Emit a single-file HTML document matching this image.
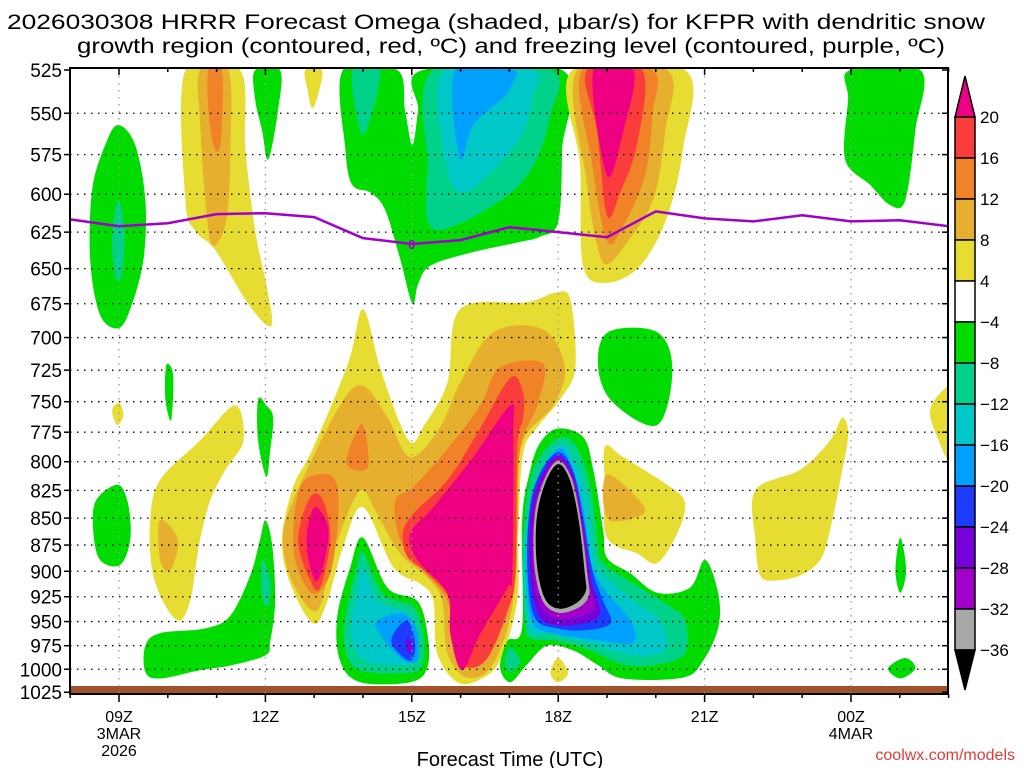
<!DOCTYPE html>
<html><head><meta charset="utf-8"><style>
html,body{margin:0;padding:0;background:#fff;}
svg{display:block;font-family:"Liberation Sans",sans-serif;}
</style></head><body>
<svg id="chart" width="1024" height="768" viewBox="0 0 1024 768" xmlns="http://www.w3.org/2000/svg">
<defs><clipPath id="plotclip"><rect x="70" y="69" width="878" height="625"/></clipPath></defs>
<g id="title">
<text x="496" y="29" font-size="21" text-anchor="middle" textLength="978" lengthAdjust="spacingAndGlyphs">2026030308 HRRR Forecast Omega (shaded, μbar/s) for KFPR with dendritic snow</text>
<text x="511" y="53" font-size="21" text-anchor="middle" textLength="868" lengthAdjust="spacingAndGlyphs">growth region (contoured, red, ºC) and freezing level (contoured, purple, ºC)</text>
</g>
<g id="fills" clip-path="url(#plotclip)"></g>
<g id="grid"></g>
<g id="overlay" clip-path="url(#plotclip)"></g>
<g id="axes"></g>
<g id="cbar"></g>
<text x="510" y="766" font-size="20" text-anchor="middle">Forecast Time (UTC)</text>
<text x="1015" y="760" font-size="16" text-anchor="end" fill="#e03c3c">coolwx.com/models</text>
</svg>
<script>
// ---- data ----
const pressureTicks = [525,550,575,600,625,650,675,700,725,750,775,800,825,850,875,900,925,950,975,1000,1025];
const timeTickHours = [1,4,7,10,13,16];
const timeTickLabels = ["09Z","12Z","15Z","18Z","21Z","00Z"];
const timeTickSub1 = ["3MAR","","","","","4MAR"];
const timeTickSub2 = ["2026","","","","",""];
const freezingHours = [0,1,2,3,4,5,6,7,8,9,10,11,12,13,14,15,16,17,18];
const freezingLevel = [616.5,621,619,613,612.4,615,629,633,630.4,621.7,625,628.4,611.2,615.8,617.8,613.8,617.8,617.1,621];
const cbarLabels = ["20","16","12","8","4","−4","−8","−12","−16","−20","−24","−28","−32","−36"];

// contour regions: [hour since 08Z, pressure hPa]
const gTop09 = [[0.98,557],[1.33,569],[1.54,604],[1.5,644],[1.23,679],[0.98,693],[0.61,683],[0.41,644],[0.45,597],[0.72,569]];
const tTop09 = [[0.98,604],[1.11,624],[1.07,651],[0.94,658],[0.86,630]];
const gLow09 = [[0.98,820],[1.19,838],[1.23,870],[1.02,894],[0.61,889],[0.47,861],[0.53,834]];
const gSliver = [[1.97,721],[2.11,729],[2.07,765],[1.95,748]];
const yTiny = [[0.86,757],[1,751],[1.09,761],[0.96,769]];
const yUp11 = [[2.36,525],[3.48,525],[3.59,572],[3.79,624],[4,658],[4.14,687],[4,690],[3.59,672],[2.97,637],[2.56,624],[2.36,604]];
const dyUp11 = [[2.66,525],[3.24,525],[3.28,572],[3.2,617],[2.91,634],[2.77,604],[2.66,554]];
const oUp11 = [[2.83,525],[3.11,525],[3.09,566],[2.97,572],[2.85,554]];
const gTop12 = [[3.79,525],[4.3,525],[4.26,548],[4.06,578],[3.93,560],[3.79,542]];
const yTop13 = [[4.82,525],[5.16,525],[5.08,539],[4.96,547],[4.86,536]];
const gTopMid = [[5.59,525],[6.7,525],[6.86,548],[7.01,569],[7.13,548],[7.23,525],[10.08,525],[10.08,572],[10,618],[9.63,628],[9.16,632],[8.2,639],[7.38,648],[7.13,661],[7.01,675],[6.76,643],[6.45,610],[6.15,599],[5.78,594],[5.64,572]];
const tTopL = [[5.78,525],[6,563],[6.35,525]];
const tTopR = [[7.44,525],[7.32,582],[7.34,619],[7.85,621],[8.87,603],[9.49,582],[9.84,551],[9.84,525]];
const cTop = [[7.68,525],[7.64,571],[7.99,599],[8.75,582],[9.28,561],[9.47,541],[9.47,525]];
const lbTop = [[7.89,525],[7.99,578],[8.26,557],[8.87,541],[9.08,532],[9.06,525]];
const yTop19 = [[10.29,525],[10.45,582],[10.51,648],[11,660],[11.68,648],[12.23,615],[12.56,571],[12.6,525]];
const dyTop19 = [[10.39,525],[10.59,593],[10.8,634],[11,647],[11.41,632],[11.95,603],[12.19,561],[12.23,525]];
const oTop19 = [[10.49,525],[10.7,582],[11,631],[11.33,621],[11.78,588],[11.93,551],[11.93,525]];
const rTop19 = [[10.59,525],[10.8,561],[11,614],[11.27,599],[11.62,568],[11.72,525]];
const mTop19 = [[10.72,525],[11,588],[11.33,561],[11.54,525]];
const gTopRight = [[15.98,525],[17.42,525],[17.32,560],[17.11,604],[16.8,607],[16.39,594],[15.88,578],[15.94,542]];
const yLow = [[4.34,870],[4.57,822],[4.98,788],[5.7,719],[6,679],[6.35,723],[6.76,768],[7.01,784],[7.23,771],[7.73,735],[7.99,679],[9.36,674],[9.94,667],[10.25,672],[10.35,723],[10.04,748],[9.57,771],[9.28,793],[9.18,864],[9.16,929],[8.81,990],[8.4,1011],[7.93,1014],[7.52,983],[7.44,929],[7.17,912],[6.62,896],[6,840],[5.59,877],[5.27,929],[4.98,952],[4.51,912]];
const dyLow = [[4.57,834],[5.47,757],[5.98,737],[6.5,763],[6.97,796],[7.58,771],[7.99,735],[8.67,696],[9.69,694],[10.14,723],[9.9,753],[9.28,782],[9.16,834],[9.08,929],[8.67,994],[8.14,1009],[7.73,983],[7.62,929],[7.32,906],[6.76,883],[6.29,846],[6,825],[5.74,840],[5.39,883],[5.06,939],[4.57,912],[4.36,870]];
const oLowL = [[4.71,822],[5.08,811],[5.43,816],[5.49,849],[5.33,902],[4.98,922],[4.65,896],[4.57,864]];
const oTongue = [[5.66,801],[5.98,768],[6.1,805]];
const oLowC = [[6.66,834],[7.03,822],[7.73,789],[8.4,753],[8.81,723],[9.69,720],[9.57,753],[9.22,789],[9.16,864],[9.08,922],[8.61,983],[8.14,998],[7.85,977],[7.73,929],[7.17,896],[6.76,870]];
const rLowL = [[4.67,870],[4.92,831],[5.18,834],[5.33,870],[5.12,916],[4.92,909]];
const rLowC = [[6.82,864],[7.03,846],[7.73,816],[8.34,776],[9.02,731],[9.28,743],[9.28,763],[9.16,789],[9.12,902],[8.96,939],[8.55,988],[8.14,998],[7.93,980],[7.79,929],[7.32,902],[6.91,886]];
const mLowL = [[4.86,861],[5.02,840],[5.29,860],[5.18,896],[5.02,909],[4.86,883]];
const mLowC = [[6.97,864],[7.44,840],[8.26,796],[9.02,753],[9.08,776],[9.06,902],[8.96,916],[8.4,963],[8.03,1001],[7.79,963],[7.73,922],[7.11,889]];
const gBlob = [[9.98,772],[10.51,779],[10.72,807],[10.92,861],[11,887],[11.48,902],[12.03,921],[12.7,916],[13.01,889],[13.28,922],[13.28,956],[12.97,991],[12.56,1009],[11.33,1010],[10.8,995],[10.31,980],[9.77,975],[9.36,995],[9.02,1014],[8.81,998],[8.96,970],[9.26,956],[9.26,852],[9.43,807],[9.63,784]];
const tBlob = [[10,780],[10.39,788],[10.66,822],[10.8,868],[10.92,892],[11.68,916],[12.3,935],[12.6,949],[12.6,983],[12.03,995],[11.33,995],[10.66,980],[9.98,970],[9.43,967],[9.32,949],[9.28,868],[9.49,807]];
const tBlobLobe = [[9.02,977],[9.22,991],[9.02,1003],[8.91,991]];
const cBlob = [[10,786],[10.31,796],[10.59,831],[10.72,877],[10.86,899],[11.54,929],[12.09,949],[12.19,980],[11.48,985],[10.66,973],[9.84,963],[9.39,956],[9.32,877],[9.57,816]];
const lbBlob = [[10,789],[10.25,801],[10.51,840],[10.66,889],[10.92,916],[11.48,949],[11.54,972],[10.92,970],[9.98,963],[9.49,952],[9.36,909],[9.39,852],[9.63,813]];
const bBlob = [[10,792],[10.3,807],[10.5,846],[10.7,899],[10.92,929],[11.07,952],[10.51,959],[9.98,957],[9.52,946],[9.37,899],[9.42,840],[9.65,808]];
const p1Blob = [[10,795],[10.32,813],[10.5,852],[10.68,909],[10.86,940],[10.59,951],[10,954],[9.6,943],[9.42,899],[9.45,843],[9.68,811]];
const p2Blob = [[10,797],[10.3,815],[10.48,852],[10.63,909],[10.76,934],[10.51,944],[10,947],[9.66,935],[9.47,899],[9.5,845],[9.7,814]];
const grBlob = [[10,799],[10.28,815],[10.46,852],[10.6,904],[10.63,924],[10.41,936],[10,941],[9.68,929],[9.51,894],[9.52,847],[9.71,816]];
const kBlob = [[10,802],[10.24,816],[10.42,852],[10.55,904],[10.56,920],[10.35,932],[10,937],[9.72,926],[9.56,892],[9.56,850],[9.74,818]];
const yRightBlob = [[10.96,787],[11.33,796],[12.3,822],[12.6,837],[12.44,864],[12.03,892],[11.62,883],[11,868],[10.96,822]];
const dyRightBlob = [[11,811],[11.74,838],[11.62,849],[11,850]];
const yTiny18 = [[10,988],[10.2,1004],[10,1014],[9.84,1004]];
const gUpper19 = [[11.02,696],[12.03,696],[12.34,725],[12.03,769],[11.13,751],[10.82,723]];
const gLL = [[6,868],[6.5,916],[7.11,929],[7.32,962],[7.32,998],[6.97,1014],[5.94,1014],[5.53,991],[5.47,946],[5.74,896]];
const tLL = [[6,882],[6.41,922],[7.03,935],[7.23,962],[7.21,995],[6.91,1004],[5.94,1001],[5.64,980],[5.64,946],[5.84,902]];
const cLL = [[6,896],[6.31,929],[6.93,942],[7.13,968],[7.07,991],[6.76,996],[6.04,991],[5.78,970],[5.78,944],[5.9,914]];
const lbLL = [[6.29,949],[6.82,942],[7.11,959],[7.11,991],[6.76,988],[6.35,963]];
const bLL = [[6.62,963],[6.91,949],[7.07,973],[6.97,991],[6.62,976]];
const p1LL = [[6.9,968],[7.0,972],[6.98,983],[6.9,980]];
const gSliver12 = [[3.85,748],[4.02,753],[4.16,763],[4.1,790],[4.02,813],[3.85,782]];
const gLow12 = [[4,852],[4.14,875],[4.2,929],[4.1,970],[4,985],[3.28,996],[2.66,1001],[1.84,1010],[1.54,1003],[1.54,975],[1.84,962],[2.77,957],[3.28,944],[3.69,904],[3.89,870]];
const tLow12 = [[3.93,889],[4.1,909],[4.06,934],[3.93,924]];
const yLeft = [[3.38,753],[3.55,782],[3.18,807],[2.87,834],[2.66,870],[2.56,899],[2.46,929],[2.25,949],[1.95,934],[1.68,899],[1.64,852],[1.84,816],[2.66,782]];
const dyLeft = [[1.84,852],[2.21,870],[2.05,899],[1.84,889]];
const yEvening = [[14.04,825],[14.96,807],[15.57,782],[15.82,763],[15.94,778],[15.78,816],[15.57,861],[15.37,889],[14.96,904],[14.45,909],[14.14,904],[14.04,870]];
const yEdge = [[17.62,757],[17.99,737],[18.2,737],[18.2,798],[17.99,798],[17.83,785]];
const gSmall23 = [[17.01,868],[17.13,899],[17.01,921],[16.91,899]];
const gBot23 = [[16.76,999],[17.11,988],[17.32,999],[17.01,1010]];

const COL = {m:"#ef0082",r:"#fa3c3c",o:"#f08228",dy:"#e6af2d",y:"#e6dc32",g:"#00dc00",t:"#00d28c",c:"#00c8c8",lb:"#00a0ff",b:"#1e3cff",p1:"#7800dc",p2:"#a000c8",gr:"#a8a8a8",k:"#000000"};
const cbarColors = [COL.r,COL.o,COL.dy,COL.y,"#ffffff",COL.g,COL.t,COL.c,COL.lb,COL.b,COL.p1,COL.p2,COL.gr];

const drawOrder = [
 [gTop09,"g","green-09z-upper"],[tTop09,"t","teal-09z-upper"],[gLow09,"g","green-09z-lower"],[gSliver,"g","green-sliver-10z"],[yTiny,"y","yellow-tiny-09z"],
 [yUp11,"y","yellow-upper-11z"],[dyUp11,"dy","darkyellow-upper-11z"],[oUp11,"o","orange-upper-11z"],[gTop12,"g","green-top-12z"],[yTop13,"y","yellow-top-13z"],
 [gTopMid,"g","green-top-15z"],[tTopL,"t","teal-top-14z"],[tTopR,"t","teal-top-16z"],[cTop,"c","cyan-top-16z"],[lbTop,"lb","blue-top-16z"],
 [yTop19,"y","yellow-top-19z"],[dyTop19,"dy","darkyellow-top-19z"],[oTop19,"o","orange-top-19z"],[rTop19,"r","red-top-19z"],[mTop19,"m","magenta-top-19z"],
 [gTopRight,"g","green-top-01z"],
 [yLow,"y","yellow-lower-main"],[dyLow,"dy","darkyellow-lower-main"],[oLowL,"o","orange-lower-13z"],[oTongue,"o","orange-tongue-14z"],[oLowC,"o","orange-lower-16z"],
 [rLowL,"r","red-lower-13z"],[rLowC,"r","red-lower-16z"],[mLowL,"m","magenta-lower-13z"],[mLowC,"m","magenta-lower-16z"],
 [gBlob,"g","green-blob-18z"],[tBlob,"t","teal-blob-18z"],[tBlobLobe,"t","teal-lobe-17z"],[cBlob,"c","cyan-blob-18z"],[lbBlob,"lb","lightblue-blob-18z"],[bBlob,"b","blue-blob-18z"],
 [p1Blob,"p1","purple-blob-18z"],[p2Blob,"p2","violet-blob-18z"],[grBlob,"gr","grey-blob-18z"],[kBlob,"k","black-core-18z"],
 [yRightBlob,"y","yellow-19z-mid"],[dyRightBlob,"dy","darkyellow-19z-mid"],[yTiny18,"y","yellow-tiny-18z"],[gUpper19,"g","green-19z-upper"],
 [gLL,"g","green-15z-lower"],[tLL,"t","teal-15z-lower"],[cLL,"c","cyan-15z-lower"],[lbLL,"lb","lightblue-15z-lower"],[bLL,"b","blue-15z-lower"],[p1LL,"p1","purple-15z-lower"],
 [gSliver12,"g","green-sliver-12z"],[gLow12,"g","green-lower-11z"],[tLow12,"t","teal-lower-12z"],[yLeft,"y","yellow-lower-10z"],[dyLeft,"dy","darkyellow-lower-10z"],
 [yEvening,"y","yellow-23z"],[yEdge,"y","yellow-edge-02z"],[gSmall23,"g","green-small-01z"],[gBot23,"g","green-bottom-01z"]
];

(function(){
const X0=70.2, XS=48.8, Y0=70, YS=930, P0=525;
function xs(h){return X0+h*XS;}
function ys(p){return Y0+YS*Math.log(p/P0);}
const NS="http://www.w3.org/2000/svg";
function mk(tag,attrs,parent){const e=document.createElementNS(NS,tag);for(const k in attrs)e.setAttribute(k,attrs[k]);parent.appendChild(e);return e;}
function smoothPath(pts){
  const P=pts.map(q=>[xs(q[0]),ys(q[1])]);const n=P.length;
  let d="M"+P[0][0].toFixed(1)+","+P[0][1].toFixed(1);
  for(let i=0;i<n;i++){
    const p0=P[(i-1+n)%n],p1=P[i],p2=P[(i+1)%n],p3=P[(i+2)%n];
    const c1=[p1[0]+(p2[0]-p0[0])/6,p1[1]+(p2[1]-p0[1])/6];
    const c2=[p2[0]-(p3[0]-p1[0])/6,p2[1]-(p3[1]-p1[1])/6];
    d+="C"+c1[0].toFixed(1)+","+c1[1].toFixed(1)+" "+c2[0].toFixed(1)+","+c2[1].toFixed(1)+" "+p2[0].toFixed(1)+","+p2[1].toFixed(1);
  }
  return d+"Z";
}
const fillsG=document.getElementById("fills");
drawOrder.forEach(item=>{
  const el=mk("path",{d:smoothPath(item[0]),fill:COL[item[1]]},fillsG);
  
  
});
const groundRect=mk("rect",{x:70,y:686,width:878,height:8,fill:"#a0522d"},fillsG);



const gridG=document.getElementById("grid");
pressureTicks.forEach(p=>{
  if(p===525||p===1025)return;
  const l=mk("line",{x1:70,x2:948,y1:ys(p),y2:ys(p),stroke:"#000","stroke-width":1.3,"stroke-dasharray":"1.5,5.5"},gridG);
  
  
});
timeTickHours.forEach(h=>{
  const l=mk("line",{x1:xs(h),x2:xs(h),y1:69,y2:694,stroke:"#999","stroke-width":1.3,"stroke-dasharray":"1.5,5.5"},gridG);
  
  
});

const ovG=document.getElementById("overlay");
const flLine=mk("polyline",{points:freezingHours.map((h,i)=>xs(h).toFixed(1)+","+ys(freezingLevel[i]).toFixed(1)).join(" "),fill:"none",stroke:"#a000c8","stroke-width":2.5},ovG);


const fzLabel=mk("text",{x:xs(7),y:ys(freezingLevel[7])+5,"font-size":13,"text-anchor":"middle",fill:"#a000c8","font-weight":"bold"},ovG);
fzLabel.textContent="0";



const axG=document.getElementById("axes");
const frameRect=mk("rect",{x:70,y:68,width:878,height:626,fill:"none",stroke:"#000","stroke-width":2},axG);


pressureTicks.forEach(p=>{
  const t=mk("line",{x1:64,x2:70,y1:ys(p),y2:ys(p),stroke:"#000","stroke-width":1.5},axG);
  
  
  const tr=mk("line",{x1:942,x2:948,y1:ys(p),y2:ys(p),stroke:"#000","stroke-width":1.5},axG);
  
  
  const lb=mk("text",{x:62,y:ys(p)+7,"font-size":19,"text-anchor":"end"},axG);
  lb.textContent=p;
  
  
});
for(let h=0;h<=18;h++){
  const major=timeTickHours.indexOf(h)>=0;
  const t=mk("line",{x1:xs(h),x2:xs(h),y1:694,y2:major?702:698,stroke:"#000","stroke-width":1.5},axG);
  
  
  const tt=mk("line",{x1:xs(h),x2:xs(h),y1:68,y2:major?75:72,stroke:"#000","stroke-width":1.5},axG);
  
  
}
timeTickHours.forEach((h,i)=>{
  const a=mk("text",{x:xs(h),y:722,"font-size":16,"text-anchor":"middle"},axG);a.textContent=timeTickLabels[i];
  
  
  if(timeTickSub1[i]){const b=mk("text",{x:xs(h),y:739,"font-size":16,"text-anchor":"middle"},axG);b.textContent=timeTickSub1[i];
    
    }
  if(timeTickSub2[i]){const c=mk("text",{x:xs(h),y:756,"font-size":16,"text-anchor":"middle"},axG);c.textContent=timeTickSub2[i];
    
    }
});

const cbG=document.getElementById("cbar");
const CBX=955, CBW=20, CBT=117, CBH=41;
const cbTop=mk("polygon",{points:`${CBX},${CBT} ${CBX+CBW},${CBT} ${CBX+CBW/2},76`,fill:COL.m,stroke:"#000","stroke-width":1.5},cbG);


cbarColors.forEach((c,i)=>{
  const r=mk("rect",{x:CBX,y:CBT+i*CBH,width:CBW,height:CBH,fill:c,stroke:"#000","stroke-width":1.5},cbG);
  
  
});
const bY=CBT+cbarColors.length*CBH;
const cbBot=mk("polygon",{points:`${CBX},${bY} ${CBX+CBW},${bY} ${CBX+CBW/2},690`,fill:"#000",stroke:"#000","stroke-width":1.5},cbG);


cbarLabels.forEach((s,i)=>{
  const t=mk("text",{x:980,y:CBT+i*CBH+6,"font-size":17},cbG);t.textContent=s;
  
  
});
})();
</script>
</body></html>
